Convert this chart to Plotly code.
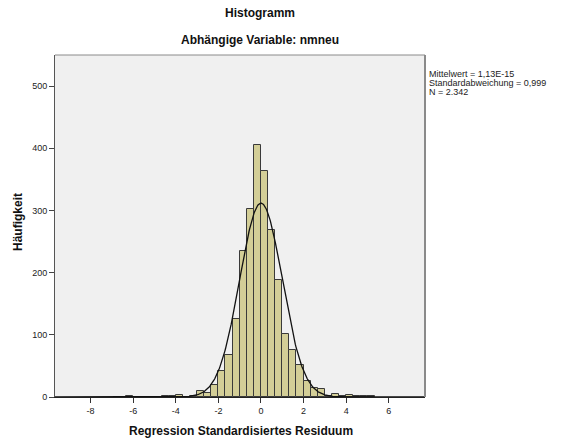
import numpy as np
import plotly.graph_objects as go

# Histogram data (bin width 1/3, first bin starts at -19/3)
bin_start = -19 / 3
bin_width = 1 / 3
counts = [1, 0, 0, 0, 0, 1, 1, 4, 0, 1, 9, 7, 19, 42, 68, 125, 234, 303,
          405, 363, 269, 188, 102, 76, 52, 26, 15, 13, 1, 5, 1, 3, 1, 1, 1]

# Summary statistics shown in the chart
mean_val = 1.13e-15
std_val = 0.999
n_val = 2342
stats_lines = ["Mittelwert = 1,13E-15", "Standardabweichung = 0,999", "N = 2.342"]

x_ticks = [-8, -6, -4, -2, 0, 2, 4, 6]
y_ticks = [0, 100, 200, 300, 400, 500]
x_range = [-9.67, 7.7]
y_range = [0, 550]

# Normal curve scaled to counts
xc = np.linspace(x_range[0], x_range[1], 600)
yc = n_val * bin_width * np.exp(-0.5 * ((xc - mean_val) / std_val) ** 2) / (std_val * np.sqrt(2 * np.pi))

FONT = "Liberation Sans, Arial, sans-serif"

L, T, R, B = 55, 55, 425, 397
W, H = 562, 443
PW, PH = R - L, B - T


def px_x(x):
    return (x - L) / PW


def px_y(y):
    return (B - y) / PH


fig = go.Figure()
fig.add_trace(go.Bar(
    x0=bin_start + bin_width / 2, dx=bin_width, y=counts, width=bin_width,
    marker=dict(color="#D3CE97", line=dict(color="#3a3a3a", width=1)),
    hoverinfo="y", showlegend=False,
))
fig.add_trace(go.Scatter(
    x=xc, y=yc, mode="lines", line=dict(color="#111111", width=1.3),
    hoverinfo="skip", showlegend=False,
))

annotations = [
    dict(text="<b>Histogramm</b>", xref="paper", yref="paper",
         x=px_x(260), y=px_y(13), xanchor="center", yanchor="middle",
         showarrow=False, font=dict(size=12, color="#111")),
    dict(text="<b>Abhängige Variable: nmneu</b>", xref="paper", yref="paper",
         x=px_x(260), y=px_y(40), xanchor="center", yanchor="middle",
         showarrow=False, font=dict(size=12, color="#111")),
    dict(text="<b>Regression Standardisiertes Residuum</b>", xref="paper", yref="paper",
         x=px_x(241), y=px_y(431), xanchor="center", yanchor="middle",
         showarrow=False, font=dict(size=12, color="#111")),
    dict(text="<b>Häufigkeit</b>", xref="paper", yref="paper",
         x=px_x(18), y=px_y(222), xanchor="center", yanchor="middle", textangle=-90,
         showarrow=False, font=dict(size=12, color="#111")),
]
for i, line in enumerate(stats_lines):
    annotations.append(dict(
        text=line, xref="paper", yref="paper",
        x=px_x(427), y=px_y(74 + 9 * i), xanchor="left", yanchor="middle",
        align="left", showarrow=False, font=dict(size=9, color="#222")))

fig.update_layout(
    width=W, height=H,
    margin=dict(l=L, r=W - R, t=T, b=H - B, autoexpand=False),
    paper_bgcolor="white", plot_bgcolor="#F0F0F0",
    bargap=0,
    font=dict(family=FONT, size=9, color="#222"),
    xaxis=dict(
        range=x_range, tickvals=x_ticks, ticktext=[str(v) for v in x_ticks],
        showgrid=False, zeroline=False, showline=True, linecolor="#222", linewidth=1,
        ticks="outside", ticklen=5, tickcolor="#333", tickfont=dict(size=9, color="#222"),
        automargin=False,
    ),
    yaxis=dict(
        range=y_range, tickvals=y_ticks,
        showgrid=False, zeroline=False, showline=True, linecolor="#555", linewidth=1,
        ticks="outside", ticklen=5, tickcolor="#444", tickfont=dict(size=9, color="#222"),
        automargin=False,
    ),
    shapes=[
        dict(type="line", xref="paper", yref="paper", x0=0, x1=1, y0=1, y1=1,
             line=dict(color="#8a8a8a", width=1)),
        dict(type="line", xref="paper", yref="paper", x0=1, x1=1, y0=0, y1=1,
             line=dict(color="#8a8a8a", width=2)),
    ],
    annotations=annotations,
)

fig.write_html("out.html")
